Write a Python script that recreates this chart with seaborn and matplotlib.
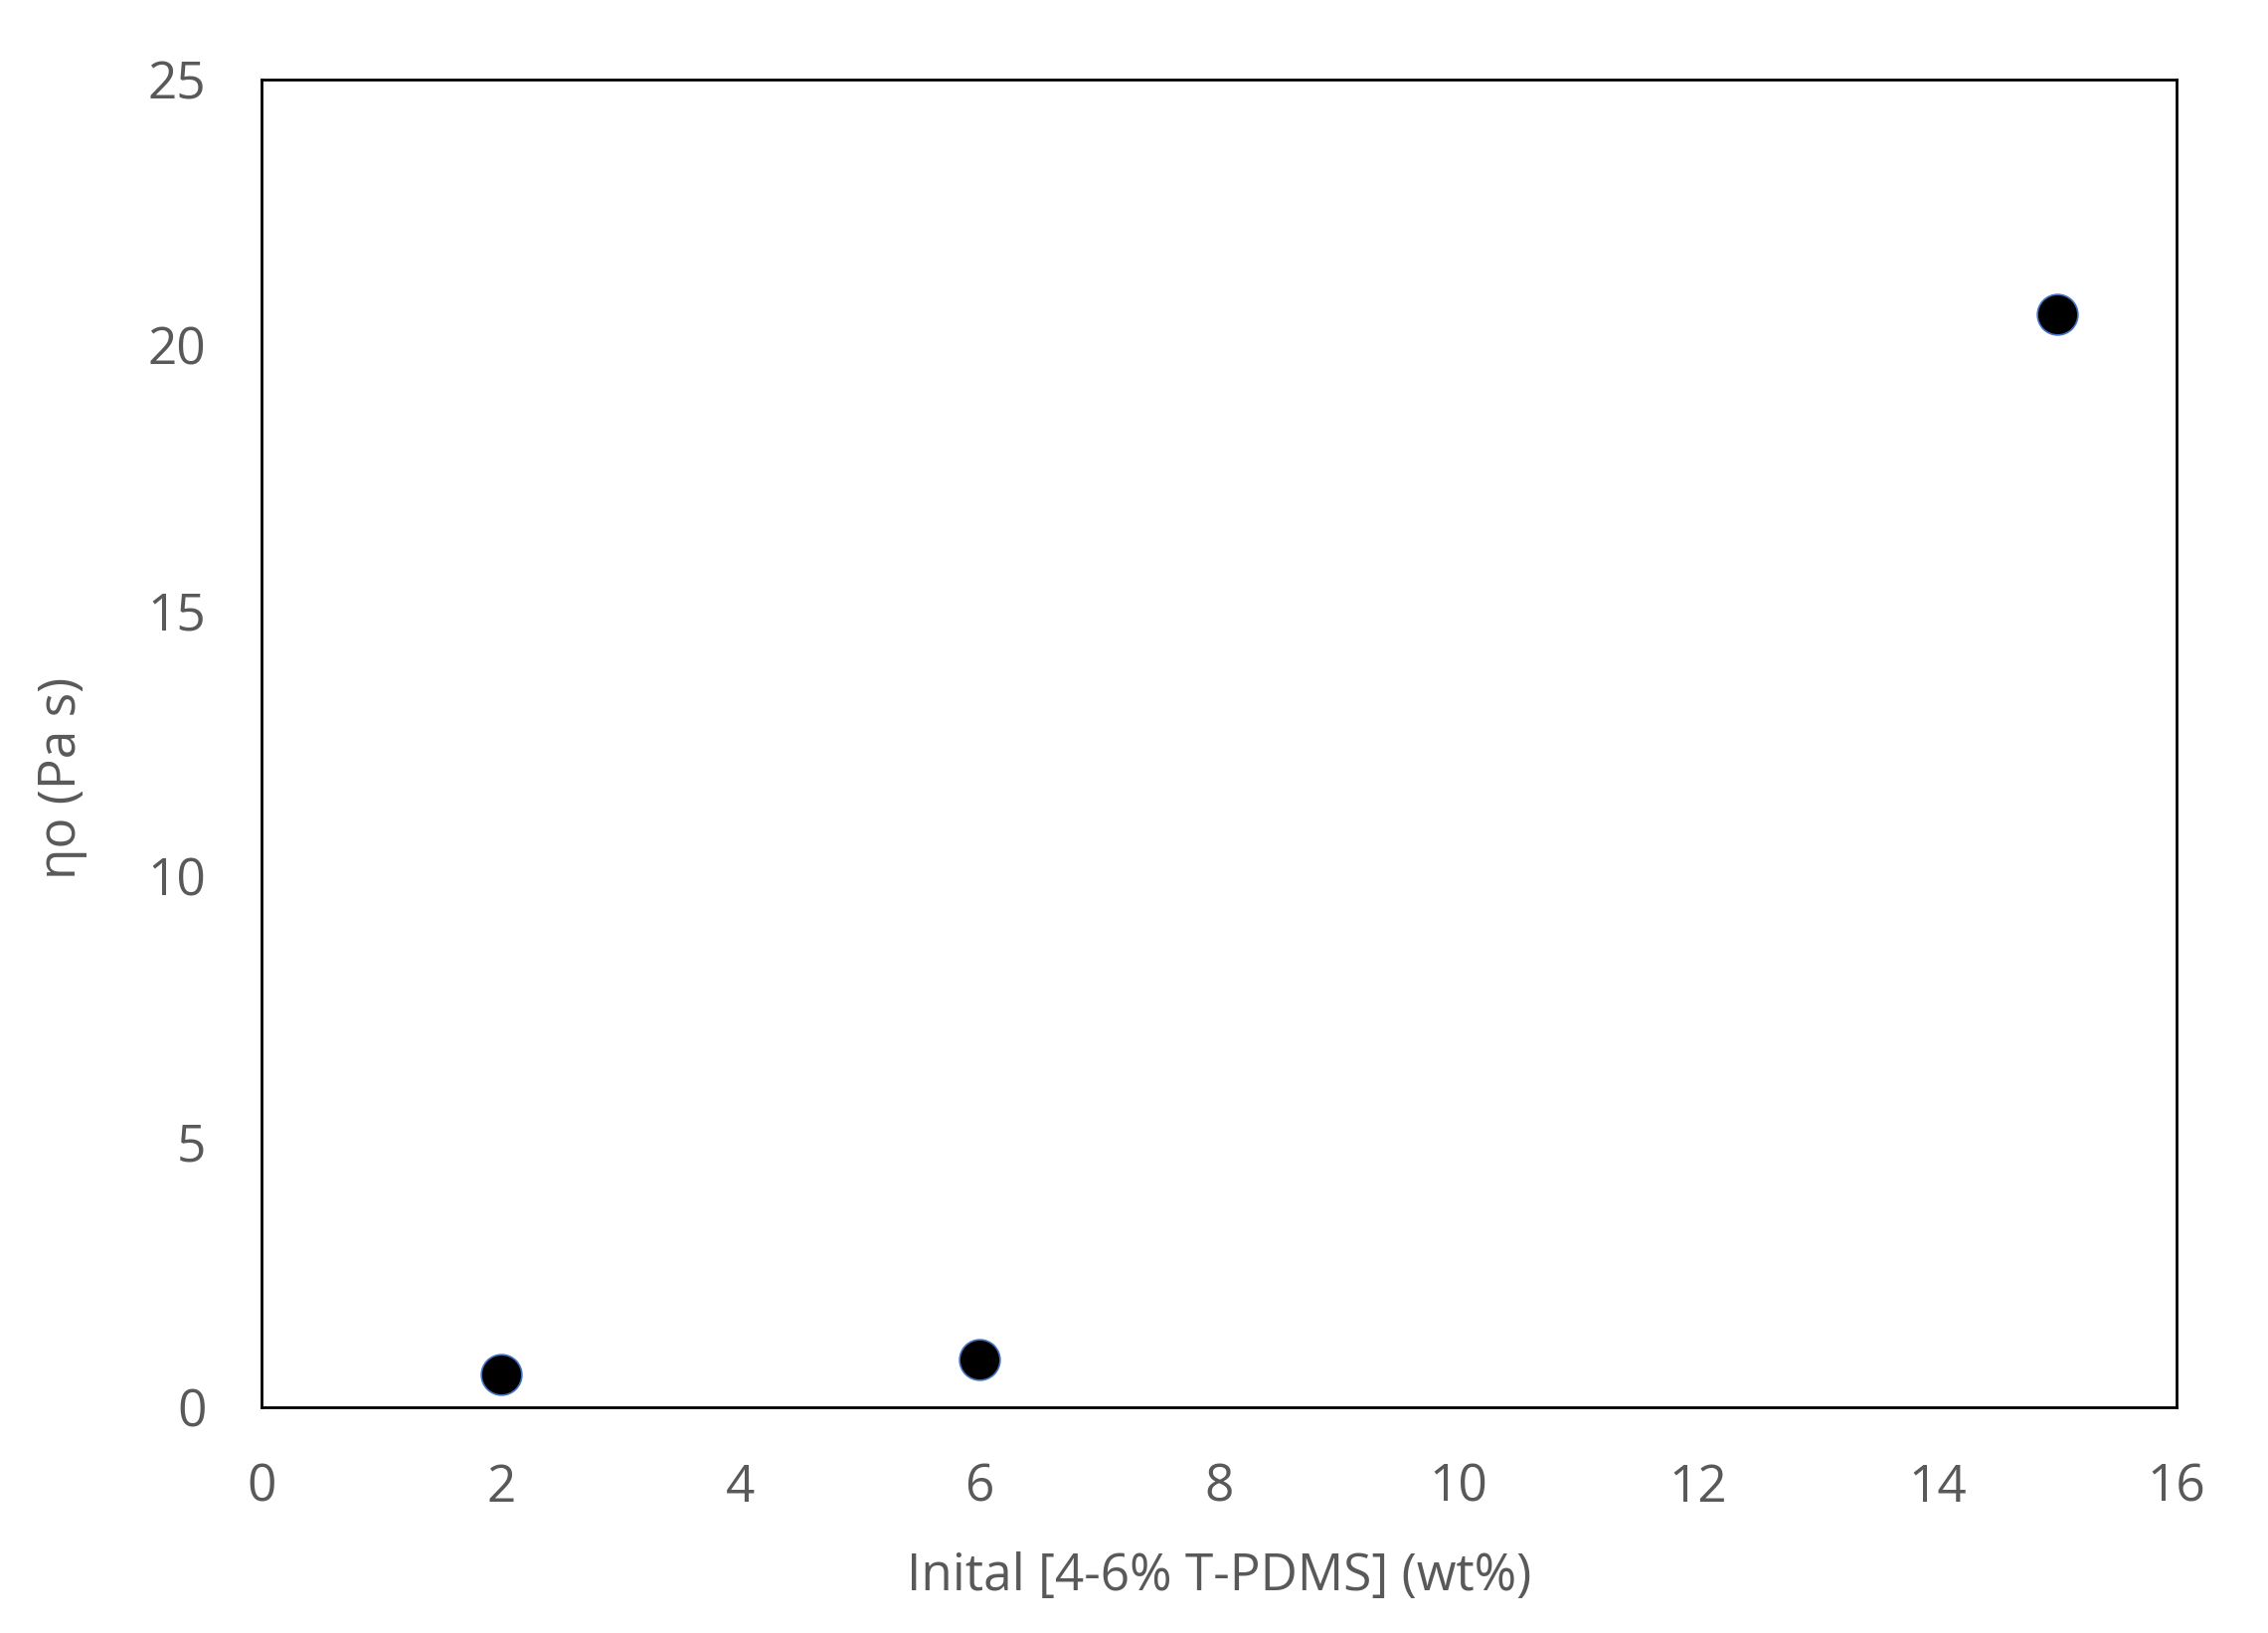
import matplotlib
matplotlib.use("Agg")
import matplotlib.pyplot as plt
import seaborn as sns
import pandas as pd

# data
conc_wt = [2, 6, 15]
eta0_pa_s = [0.62, 0.90, 20.58]

x_ticks = [0, 2, 4, 6, 8, 10, 12, 14, 16]
y_ticks = [0, 5, 10, 15, 20, 25]

df = pd.DataFrame({"conc": conc_wt, "eta0": eta0_pa_s})

sns.set_theme(style="white")
plt.rcParams["font.family"] = ["Open Sans", "DejaVu Sans"]

grey = "#595959"
fig = plt.figure(figsize=(11.405, 8.21), dpi=200)
ax = fig.add_axes([263 / 2281, 1 - 1415 / 1642, (2189 - 263) / 2281, (1415 - 80) / 1642])

sns.scatterplot(data=df, x="conc", y="eta0", ax=ax, s=215, color="black",
                edgecolor="#4472C4", linewidth=0.6, zorder=3)

ax.set_xlim(0, 16)
ax.set_ylim(0, 25)
ax.set_xticks(x_ticks)
ax.set_yticks(y_ticks)
ax.tick_params(axis="both", length=0, labelsize=18.5, labelcolor=grey, pad=20)
for side in ["top", "bottom", "left", "right"]:
    ax.spines[side].set_visible(True)
    ax.spines[side].set_color("black")
    ax.spines[side].set_linewidth(1.0)

ax.set_xlabel("Inital [4-6% T-PDMS] (wt%)", fontsize=18.5, color=grey, labelpad=14)
ax.set_ylabel("ηo (Pa s)", fontsize=18.5, color=grey)
ax.yaxis.set_label_coords(-0.091, 0.474)

fig.savefig("out.png", dpi=200)
plt.close(fig)
